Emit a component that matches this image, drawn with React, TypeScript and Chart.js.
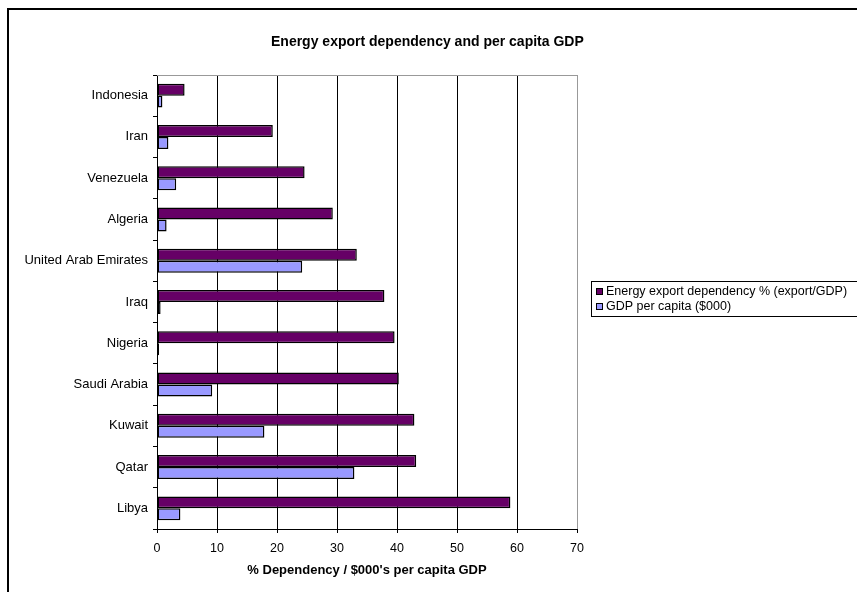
import React, { useEffect, useRef } from "react";
import { Chart, registerables } from "chart.js";

Chart.register(...registerables);

// Countries, listed top to bottom
const countries = [
  "Indonesia",
  "Iran",
  "Venezuela",
  "Algeria",
  "United Arab Emirates",
  "Iraq",
  "Nigeria",
  "Saudi Arabia",
  "Kuwait",
  "Qatar",
  "Libya",
];

// Energy export dependency, % of GDP
const dependency = [4.6, 19.3, 24.6, 29.3, 33.3, 37.9, 39.6, 40.3, 42.9, 43.2, 58.9];

// GDP per capita, thousands of dollars
const gdpPerCapita = [0.9, 1.9, 3.2, 1.6, 24.2, 0.6, 0.35, 9.2, 17.9, 32.9, 3.9];

const xMin = 0;
const xMax = 70;
const xStep = 10;

const chartTitle = "Energy export dependency and per capita GDP";
const xAxisTitle = "% Dependency / $000's per capita GDP";
const seriesLabels = ["Energy export dependency % (export/GDP)", "GDP per capita ($000)"];
const seriesColors = ["#660066", "#9999FF"];

const FONT = "'Liberation Sans', Arial, sans-serif";

// Frame, plot-area border, title and legend drawn around the chart area
const decorPlugin = {
  id: "decor",
  afterDraw(chart: any) {
    const { ctx, chartArea } = chart;
    ctx.save();

    // outer frame (right and bottom edges fall outside the canvas)
    ctx.strokeStyle = "#000";
    ctx.lineWidth = 2;
    ctx.strokeRect(8, 9, 900, 700);

    // grey top edge of the plot area
    ctx.strokeStyle = "#999";
    ctx.lineWidth = 1;
    ctx.beginPath();
    ctx.moveTo(chartArea.left, Math.round(chartArea.top) + 0.5);
    ctx.lineTo(chartArea.right, Math.round(chartArea.top) + 0.5);
    ctx.stroke();

    // title
    ctx.fillStyle = "#000";
    ctx.font = `bold 14px ${FONT}`;
    ctx.textAlign = "left";
    ctx.textBaseline = "middle";
    ctx.fillText(chartTitle, 271, 42);

    // legend
    const lx = 591;
    const ly = 281;
    const lw = 270;
    const lh = 35;
    ctx.strokeStyle = "#000";
    ctx.lineWidth = 1;
    ctx.strokeRect(lx + 0.5, ly + 0.5, lw, lh);
    ctx.font = `12.5px ${FONT}`;
    ctx.textAlign = "left";
    chart.data.datasets.forEach((ds: any, i: number) => {
      const cy = ly + 10.5 + i * 15;
      ctx.fillStyle = ds.backgroundColor;
      ctx.fillRect(596, cy - 3.5, 7, 7);
      ctx.strokeStyle = "#000";
      ctx.strokeRect(596.5, cy - 3, 6, 6);
      ctx.fillStyle = "#000";
      ctx.fillText(ds.label, 606, cy + 0.5);
    });

    ctx.restore();
  },
};

export default function App() {
  const canvasRef = useRef<HTMLCanvasElement | null>(null);

  useEffect(() => {
    const canvas = canvasRef.current;
    if (!canvas) return;

    const chart = new Chart(canvas, {
      type: "bar",
      data: {
        labels: countries,
        datasets: [
          {
            label: seriesLabels[0],
            data: dependency,
            backgroundColor: seriesColors[0],
            borderColor: "#000",
            borderWidth: 1.5,
            borderSkipped: false,
          },
          {
            label: seriesLabels[1],
            data: gdpPerCapita,
            backgroundColor: seriesColors[1],
            borderColor: "#000",
            borderWidth: 1.5,
            borderSkipped: false,
          },
        ],
      },
      options: {
        indexAxis: "y",
        responsive: false,
        animation: false,
        devicePixelRatio: 1,
        categoryPercentage: 0.58,
        barPercentage: 1,
        layout: { padding: { top: 75, left: 0, right: 280, bottom: 0 } },
        plugins: {
          legend: { display: false },
          title: { display: false },
          tooltip: { enabled: false },
        },
        scales: {
          x: {
            type: "linear",
            min: xMin,
            max: xMax,
            ticks: {
              stepSize: xStep,
              color: "#000",
              padding: 8,
              font: { family: FONT, size: 12.5 },
            },
            grid: {
              color: (c: any) => (c.tick && c.tick.value === xMax ? "#999" : "#000"),
              tickColor: "#000",
              tickLength: 4,
              drawOnChartArea: true,
            },
            border: { display: true, color: "#000", width: 1 },
            title: {
              display: true,
              text: xAxisTitle,
              color: "#000",
              font: { family: FONT, size: 13, weight: "bold" },
              padding: { top: 0, bottom: 14 },
            },
            afterFit(scale: any) {
              scale.height = 63;
            },
          },
          y: {
            type: "category",
            ticks: {
              color: "#000",
              padding: 5,
              font: { family: FONT, size: 13 },
            },
            grid: {
              drawOnChartArea: false,
              drawTicks: true,
              tickLength: 4,
              tickColor: "#000",
              offset: true,
            },
            border: { display: true, color: "#000", width: 1 },
            afterFit(scale: any) {
              scale.width = 157;
            },
          },
        },
      },
      plugins: [decorPlugin],
    } as any);

    return () => chart.destroy();
  }, []);

  return (
    <div style={{ position: "fixed", left: 0, top: 0, width: 857, height: 592, background: "#fff" }}>
      <canvas ref={canvasRef} width={857} height={592} />
    </div>
  );
}
